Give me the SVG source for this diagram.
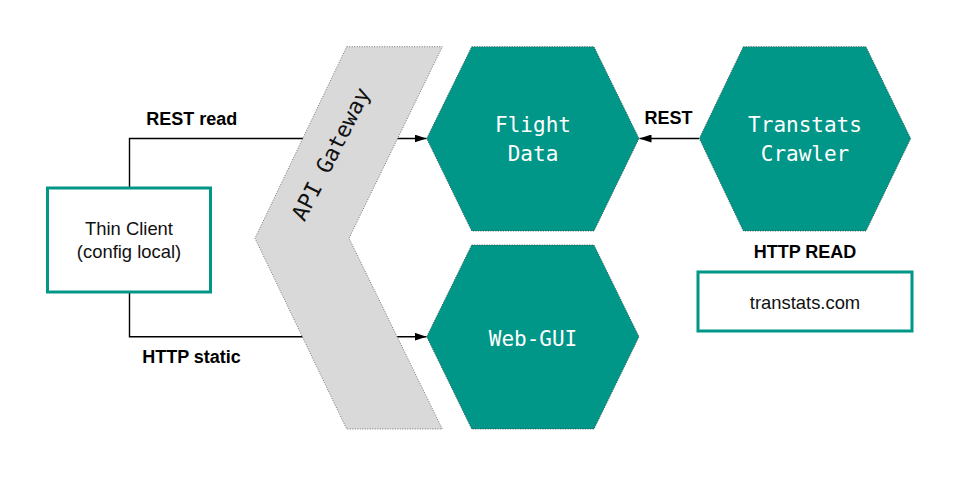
<svg xmlns="http://www.w3.org/2000/svg" width="960" height="481" viewBox="0 0 960 481">
<style>
.hex{fill:#009688;stroke:#3a3a3a;stroke-width:0.8;stroke-dasharray:1 1.5}
.gw{fill:#d9d9d9;stroke:#555;stroke-width:0.8;stroke-dasharray:1 1.5}
.box{fill:#fff;stroke:#009688;stroke-width:3}
.mono{font-family:"DejaVu Sans Mono","Liberation Mono",monospace;font-size:21px;fill:#fff;text-anchor:middle}
.sans{font-family:"Liberation Sans",Arial,sans-serif;font-size:18.4px;fill:#111;text-anchor:middle}
.lbl{font-family:"Liberation Sans",Arial,sans-serif;font-size:18px;font-weight:bold;fill:#000;text-anchor:middle}
.con{fill:none;stroke:#000;stroke-width:1.4}
</style>
<defs>
<marker id="arr" markerWidth="12" markerHeight="8" refX="12" refY="4" orient="auto" markerUnits="userSpaceOnUse">
<path d="M0,0 L12,4 L0,8 Z" fill="#000"/>
</marker>
</defs>
<rect width="960" height="481" fill="#fff"/>
<g id="connectors">
<path class="con" d="M129.5,188 V138.5 H426.5" marker-end="url(#arr)"/>
<path class="con" d="M129.5,292 V336.7 H426.5" marker-end="url(#arr)"/>
<path class="con" d="M699,138.5 H639.5" marker-end="url(#arr)"/>
</g>
<g id="api-gateway">
<polygon class="gw" points="346.7,46.7 442.3,46.7 349,238.3 442.3,429 346.7,429 255,238.3"/>
<text class="mono" style="fill:#111;font-size:22px" x="331" y="154" dominant-baseline="central" transform="rotate(-63 331 154)">API Gateway</text>
</g>
<g id="thin-client">
<rect class="box" x="47.5" y="188" width="163" height="104"/>
<text class="sans" x="129" y="235">Thin Client</text>
<text class="sans" x="129" y="258.3">(config local)</text>
</g>
<g id="flight-data">
<polygon class="hex" points="471.7,46.7 594,46.7 639,138.5 594,231 471.7,231 426.7,138.5"/>
<text class="mono" x="533" y="132.3">Flight</text>
<text class="mono" x="533" y="160.7">Data</text>
</g>
<g id="web-gui">
<polygon class="hex" points="471.7,245 594,245 639,336.7 594,429 471.7,429 426.7,336.7"/>
<text class="mono" x="533" y="345.7">Web-GUI</text>
</g>
<g id="transtats-crawler">
<polygon class="hex" points="743.3,46.7 866,46.7 910.7,138.5 866,231 743.3,231 699.3,138.5"/>
<text class="mono" x="805" y="132.3">Transtats</text>
<text class="mono" x="805" y="160.7">Crawler</text>
</g>
<g id="transtats-com">
<rect class="box" x="698" y="272" width="214" height="59"/>
<text class="sans" x="805" y="309">transtats.com</text>
</g>
<g id="labels">
<text class="lbl" x="191.7" y="125">REST read</text>
<text class="lbl" x="191.5" y="363">HTTP static</text>
<text class="lbl" x="668.5" y="124">REST</text>
<text class="lbl" x="805" y="257.5">HTTP READ</text>
</g>
</svg>
